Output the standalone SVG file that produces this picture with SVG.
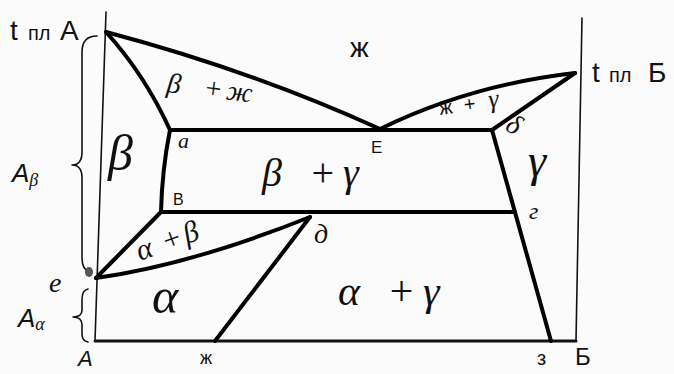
<svg xmlns="http://www.w3.org/2000/svg" width="674" height="374" viewBox="0 0 674 374">
<style>
.ax{fill:none;stroke:#111;stroke-width:1.6;stroke-linecap:round}
.ln{fill:none;stroke:#000;stroke-width:4;stroke-linecap:round;stroke-linejoin:round}
.br{fill:none;stroke:#111;stroke-width:1.6;stroke-linecap:round;stroke-linejoin:round}
.s{font-family:"Liberation Sans","DejaVu Sans",sans-serif;fill:#111}
.g{font-family:"Liberation Serif","DejaVu Serif",serif;font-style:italic;fill:#111}
</style>
<rect width="674" height="374" fill="#fbfbfb"/>
<g id="axes">
<path class="ax" d="M106,12 L95,341"/>
<path class="ax" d="M582,18 L576,341"/>
<path class="ax" d="M95,341 L576,341" style="stroke-width:3"/>
</g>
<g id="braces">
<path class="br" d="M97,36 Q82,36 82,52 L82,152 Q82,165 72,165 Q82,165 82,178 L82,258 Q82,270 90,272"/>
<path class="br" d="M88,289 Q82,290 82,300 L82,310 Q82,317 73,317 Q82,317 82,325 L82,334 Q82,341 88,342"/>
<ellipse cx="89" cy="272" rx="4" ry="5" fill="#555"/>
</g>
<g id="lines">
<path class="ln" d="M106,32 Q250,70 380,129"/>
<path class="ln" d="M106,32 Q145,75 170,130"/>
<path class="ln" d="M170,130 L492,130"/>
<path class="ln" d="M380,129 Q470,85 575,73"/>
<path class="ln" d="M575,73 L492,130"/>
<path class="ln" d="M492,130 L551,341"/>
<path class="ln" d="M170,130 Q162,170 161,212"/>
<path class="ln" d="M161,212 L515,212"/>
<path class="ln" d="M161,212 L96,278"/>
<path class="ln" d="M96,278 Q190,265 310,217"/>
<path class="ln" d="M310,217 L215,341"/>
</g>
<g id="labels">
<text class="s" x="10" y="40" font-size="28">t<tspan x="28" font-size="20">пл</tspan><tspan x="60">A</tspan></text>
<text class="s" x="592" y="82" font-size="28">t<tspan x="609" font-size="20">пл</tspan><tspan x="648">Б</tspan></text>
<text class="s" x="350" y="57" font-size="28">ж</text>
<text class="g" x="166" y="92" font-size="28" transform="rotate(7 166 92)">β<tspan x="203">+</tspan><tspan x="226">ж</tspan></text>
<text class="g" x="108" y="170" font-size="50">β</text>
<text class="g" x="178" y="148" font-size="22">a</text>
<text class="s" x="371" y="153" font-size="17">E</text>
<text class="g" x="262" y="186" font-size="40">β<tspan x="309">+</tspan><tspan x="343">γ</tspan></text>
<text class="s" x="440" y="115" font-size="20" transform="rotate(-8 440 115)">ж<tspan x="465">+</tspan><tspan x="490" class="g" font-size="26">γ</tspan></text>
<text class="g" x="507" y="136" font-size="28" transform="rotate(30 518 127)">δ</text>
<text class="g" x="528" y="176" font-size="46">γ</text>
<text class="s" x="173" y="205" font-size="16">B</text>
<text class="g" x="529" y="219" font-size="24">г</text>
<text class="g" x="140" y="261" font-size="30" transform="rotate(-20 140 261)">α<tspan x="167">+</tspan><tspan x="190">β</tspan></text>
<text class="g" x="314" y="243" font-size="28">д</text>
<text class="g" x="152" y="313" font-size="50">α</text>
<text class="g" x="338" y="305" font-size="42">α<tspan x="387">+</tspan><tspan x="423">γ</tspan></text>
<text class="g" x="49" y="292" font-size="28">e</text>
<text class="s" x="12" y="182" font-size="26" font-style="italic">A<tspan class="g" font-size="18" dy="4">β</tspan></text>
<text class="s" x="18" y="327" font-size="26" font-style="italic">A<tspan class="g" font-size="18" dy="3">α</tspan></text>
<text class="s" x="78" y="366" font-size="22" font-style="italic">A</text>
<text class="s" x="200" y="364" font-size="18">ж</text>
<text class="s" x="537" y="365" font-size="20">з</text>
<text class="s" x="575" y="365" font-size="24">Б</text>
</g>
</svg>
